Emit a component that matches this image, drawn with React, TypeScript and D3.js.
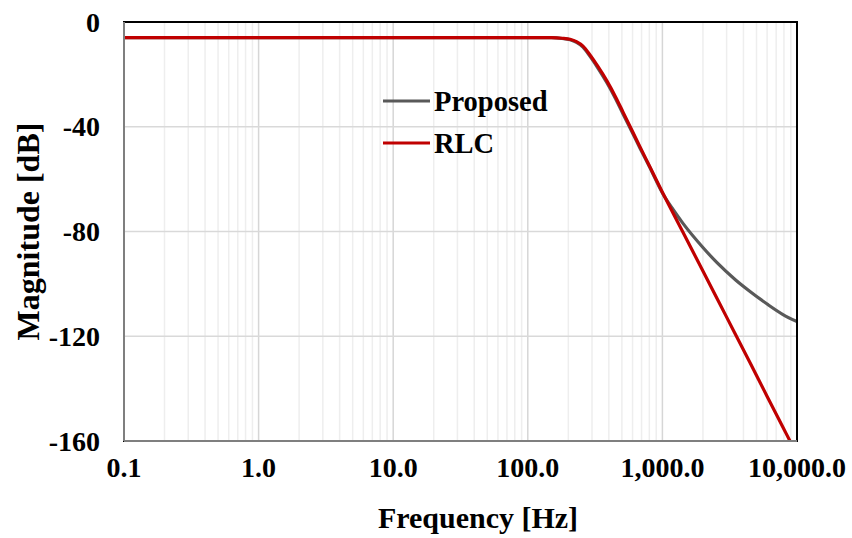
import { useEffect, useRef } from "react";
import * as d3 from "d3";

// frequency samples [Hz]
const freqRLC = [0.1, 1, 10, 100, 150, 180, 206, 230, 257, 290, 330, 387, 450, 510, 600, 682, 800, 1000, 1400, 2000, 3000, 4500, 6000, 8000, 8870, 10000];
const magRLC = [-6, -6, -6, -6, -6, -6.2, -6.6, -7.5, -9.2, -12.6, -16.8, -22.5, -28.7, -34.4, -41.8, -47.7, -54.9, -65, -79.6, -95.1, -112.7, -130.3, -143, -155.5, -160, -165];

const freqProposed = [0.1, 1, 10, 100, 150, 180, 206, 230, 257, 290, 330, 387, 450, 510, 600, 682, 800, 1000, 1200, 1422, 2000, 2545, 3500, 4477, 6000, 7870, 10000];
const magProposed = [-6, -6, -6, -6, -6, -6.3, -6.8, -7.8, -9.6, -13.1, -17.4, -23.2, -29.4, -35.1, -42.4, -48.2, -55.2, -65.3, -71.6, -76.9, -86.1, -91.9, -98.5, -102.9, -107.7, -111.7, -114.4];

const xTicks = [0.1, 1, 10, 100, 1000, 10000];
const yTicks = [0, -40, -80, -120, -160];

const seriesNames = ["Proposed", "RLC"];
const seriesColors = ["#595959", "#c00000"];

const App = () => {
  const svgRef = useRef(null);

  useEffect(() => {
    const svg = d3.select(svgRef.current);
    svg.selectAll("*").remove();
    const width = 852;
    const height = 538;
    const margin = { top: 22, right: 55, bottom: 97, left: 124 };
    const font = "'Liberation Serif', 'Times New Roman', serif";

    const x = d3.scaleLog().domain([0.1, 10000]).range([margin.left, width - margin.right]);
    const y = d3.scaleLinear().domain([-160, 0]).range([height - margin.bottom, margin.top]);

    svg.attr("width", width).attr("height", height);

    // minor vertical grid
    const minor: number[] = [];
    for (let dec = -1; dec < 4; dec++) {
      for (let k = 2; k <= 9; k++) minor.push(k * Math.pow(10, dec));
    }
    svg.append("g").selectAll("line").data(minor).enter().append("line")
      .attr("x1", (d) => x(d)).attr("x2", (d) => x(d))
      .attr("y1", y(0)).attr("y2", y(-160))
      .attr("stroke", "#eeeeee").attr("stroke-width", 1.5);

    svg.append("g").selectAll("line").data(xTicks).enter().append("line")
      .attr("x1", (d) => x(d)).attr("x2", (d) => x(d))
      .attr("y1", y(0)).attr("y2", y(-160))
      .attr("stroke", "#d6d6d6").attr("stroke-width", 1.5);

    svg.append("g").selectAll("line").data(yTicks).enter().append("line")
      .attr("x1", x(0.1)).attr("x2", x(10000))
      .attr("y1", (d) => y(d)).attr("y2", (d) => y(d))
      .attr("stroke", "#d9d9d9").attr("stroke-width", 1.5);

    svg.append("clipPath").attr("id", "plot-clip").append("rect")
      .attr("x", x(0.1)).attr("y", y(0))
      .attr("width", x(10000) - x(0.1)).attr("height", y(-160) - y(0));

    const line = d3.line<[number, number]>()
      .x((d) => x(d[0]))
      .y((d) => y(d[1]))
      .curve(d3.curveMonotoneX);

    const series = [
      freqProposed.map((f, i) => [f, magProposed[i]] as [number, number]),
      freqRLC.map((f, i) => [f, magRLC[i]] as [number, number]),
    ];

    svg.append("g").attr("clip-path", "url(#plot-clip)")
      .selectAll("path").data(series).enter().append("path")
      .attr("d", (d) => line(d))
      .attr("fill", "none")
      .attr("stroke", (_, i) => seriesColors[i])
      .attr("stroke-width", 3.2)
      .attr("stroke-linejoin", "round");

    // frame
    svg.append("rect")
      .attr("x", x(0.1)).attr("y", y(0))
      .attr("width", x(10000) - x(0.1)).attr("height", y(-160) - y(0))
      .attr("fill", "none").attr("stroke", "#000").attr("stroke-width", 2);
    svg.append("line")
      .attr("x1", x(0.1)).attr("x2", x(0.1)).attr("y1", y(0)).attr("y2", y(-160))
      .attr("stroke", "#7f7f7f").attr("stroke-width", 2);
    svg.append("line")
      .attr("x1", x(0.1)).attr("x2", x(10000)).attr("y1", y(-160)).attr("y2", y(-160))
      .attr("stroke", "#7f7f7f").attr("stroke-width", 2);

    // tick labels
    const fmt = d3.format(",.1f");
    svg.append("g").selectAll("text").data(xTicks).enter().append("text")
      .attr("x", (d) => x(d)).attr("y", 477)
      .attr("text-anchor", "middle")
      .attr("font-family", font).attr("font-weight", "bold").attr("font-size", "28px")
      .text((d) => fmt(d));

    svg.append("g").selectAll("text").data(yTicks).enter().append("text")
      .attr("x", 100).attr("y", (d) => y(d))
      .attr("dy", "0.34em")
      .attr("text-anchor", "end")
      .attr("font-family", font).attr("font-weight", "bold").attr("font-size", "28px")
      .text((d) => d);

    // axis titles
    svg.append("text")
      .attr("x", 478).attr("y", 528)
      .attr("text-anchor", "middle")
      .attr("font-family", font).attr("font-weight", "bold").attr("font-size", "30px")
      .text("Frequency [Hz]");
    svg.append("text")
      .attr("transform", `translate(39, ${(y(0) + y(-160)) / 2}) rotate(-90)`)
      .attr("text-anchor", "middle")
      .attr("font-family", font).attr("font-weight", "bold").attr("font-size", "32px")
      .text("Magnitude [dB]");

    // legend
    const legend = svg.append("g").selectAll("g").data(seriesNames).enter().append("g")
      .attr("transform", (_, i) => `translate(383, ${101 + i * 42})`);
    legend.append("line")
      .attr("x1", 0).attr("x2", 47).attr("y1", 0).attr("y2", 0)
      .attr("stroke", (_, i) => seriesColors[i]).attr("stroke-width", 3.2);
    legend.append("text")
      .attr("x", 51).attr("y", 0).attr("dy", "0.34em")
      .attr("font-family", font).attr("font-weight", "bold").attr("font-size", "28.5px")
      .text((d) => d);
  }, []);

  return <svg ref={svgRef} style={{ position: "absolute", left: 0, top: 0 }}></svg>;
};

export default App;
